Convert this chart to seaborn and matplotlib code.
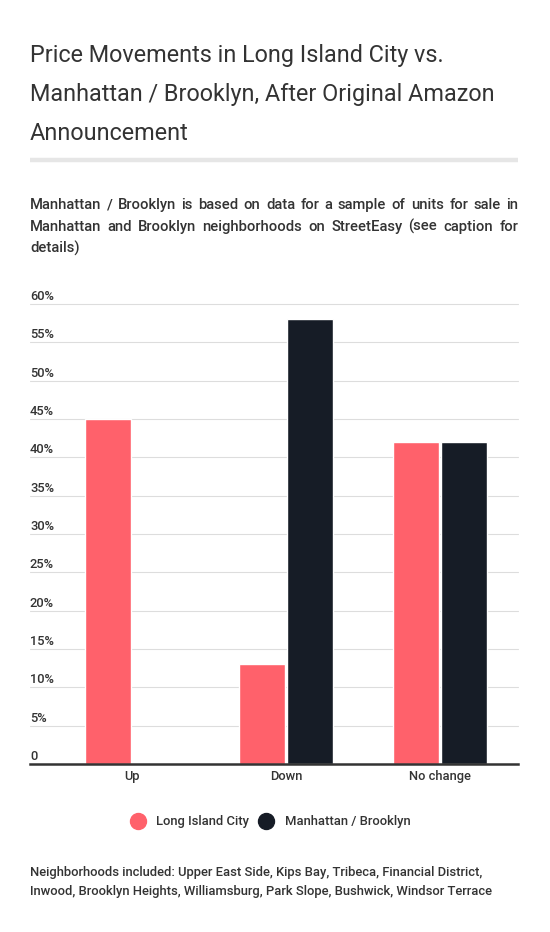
import matplotlib
matplotlib.use("Agg")
import matplotlib.pyplot as plt
import matplotlib.transforms as mtransforms
from matplotlib.lines import Line2D
import seaborn as sns
import pandas as pd

# ---- data ----
categories = ["Up", "Down", "No change"]
series_names = ["Long Island City", "Manhattan / Brooklyn"]
lic_values = [45, 13, 42]
mb_values = [0, 58, 42]
y_ticks = [0, 5, 10, 15, 20, 25, 30, 35, 40, 45, 50, 55, 60]
y_tick_labels = ["0", "5%", "10%", "15%", "20%", "25%", "30%", "35%", "40%", "45%", "50%", "55%", "60%"]

title_lines = ["Price Movements in Long Island City vs.",
               "Manhattan / Brooklyn, After Original Amazon",
               "Announcement"]
subtitle_lines = ["Manhattan / Brooklyn is based on data for a sample of units for sale in",
                  "Manhattan and Brooklyn neighborhoods on StreetEasy (see caption for",
                  "details)"]
footer_lines = ["Neighborhoods included: Upper East Side, Kips Bay, Tribeca, Financial District,",
                "Inwood, Brooklyn Heights, Williamsburg, Park Slope, Bushwick, Windsor Terrace"]

colors = ["#ff616b", "#161c26"]
TEXT = "#333333"

df = pd.DataFrame({
    "category": categories * 2,
    "series": [series_names[0]] * 3 + [series_names[1]] * 3,
    "value": lic_values + mb_values,
})

sns.set_theme(style="white")
plt.rcParams["font.family"] = ["Roboto", "DejaVu Sans"]

W, H = 550, 932
fig = plt.figure(figsize=(W / 100, H / 100), dpi=100)
fig.patch.set_facecolor("white")

def fx(px):
    return px / W

def fy(py):
    return 1 - py / H

# axes: x 30..518, y 304 (60%) .. 764 (0)
ax = fig.add_axes([fx(30), fy(764), fx(518) - fx(30), (764 - 304) / H])
sns.barplot(data=df, x="category", y="value", hue="series", order=categories,
            hue_order=series_names, palette=colors, saturation=1,
            width=0.623, gap=0.04, ax=ax, legend=False)

ax.set_xlim(-0.6623, 2.5065)
ax.set_ylim(0, 60)
ax.set_xlabel("")
ax.set_ylabel("")
for s in ["top", "right", "left"]:
    ax.spines[s].set_visible(False)
ax.spines["bottom"].set_color("#333333")
ax.spines["bottom"].set_linewidth(1.8)
ax.spines["bottom"].set_zorder(5)

# gridlines
ax.set_yticks(y_ticks)
ax.set_yticklabels([])
ax.tick_params(axis="y", length=0)
for v in y_ticks[1:]:
    ax.axhline(v, color="#dddddd", lw=0.8, zorder=0, clip_on=False)

# y labels above gridlines
trans = mtransforms.blended_transform_factory(ax.transAxes, ax.transData)
trans = mtransforms.offset_copy(trans, fig=fig, x=0, y=4, units="dots")
for v, lab in zip(y_ticks, y_tick_labels):
    ax.text(0, v, lab, transform=trans, ha="left", va="baseline",
            fontsize=9.3, fontweight="medium", color=TEXT)

# x ticks
ax.set_xticks(range(len(categories)))
ax.set_xticklabels(categories, fontsize=9.3, color=TEXT, fontweight="medium")
ax.tick_params(axis="x", which="major", length=0, pad=4)
ax.set_xticks([-0.5, 0.5, 1.5, 2.5], minor=True)
ax.tick_params(axis="x", which="minor", length=17.5, width=0.9, color="#333333")

# title
for i, line in enumerate(title_lines):
    fig.text(fx(30), fy(62 + 39 * i), line, fontsize=16.8, color="#333333",
             ha="left", va="baseline", fontweight="normal")

# separator
fig.add_artist(Line2D([fx(30), fx(518)], [fy(159.5), fy(159.5)],
                      transform=fig.transFigure, color="#e6e6e6", lw=3.2,
                      solid_capstyle="butt"))

# subtitle (justified)
renderer = fig.canvas.get_renderer()
sub_kw = dict(fontsize=10.6, color=TEXT, fontweight="medium", va="baseline", ha="left")
x0, x1 = 30, 518
for i, line in enumerate(subtitle_lines):
    yb = fy(209 + 22 * i)
    words = line.split(" ")
    if i == len(subtitle_lines) - 1 or len(words) == 1:
        fig.text(fx(x0), yb, line, **sub_kw)
        continue
    texts = [fig.text(0, yb, w, **sub_kw) for w in words]
    widths = [t.get_window_extent(renderer).width for t in texts]
    space = (x1 - x0 - sum(widths)) / (len(words) - 1)
    cur = x0
    for t, wdt in zip(texts, widths):
        t.set_x(fx(cur))
        cur += wdt + space

# legend
leg_y = fy(821)
for cx, tx, col, name in [(138, 156, colors[0], series_names[0]),
                          (266, 285, colors[1], series_names[1])]:
    fig.add_artist(Line2D([fx(cx)], [leg_y], transform=fig.transFigure, marker="o",
                          markersize=11.5, color=col, lw=0))
    fig.text(fx(tx), leg_y, name, fontsize=9.4, color=TEXT, fontweight="medium",
             ha="left", va="center")

# footer
for i, line in enumerate(footer_lines):
    fig.text(fx(30), fy(876 + 19 * i), line, fontsize=9.4, color=TEXT,
             fontweight="medium", ha="left", va="baseline")

fig.savefig("out.png", dpi=100, facecolor="white")
